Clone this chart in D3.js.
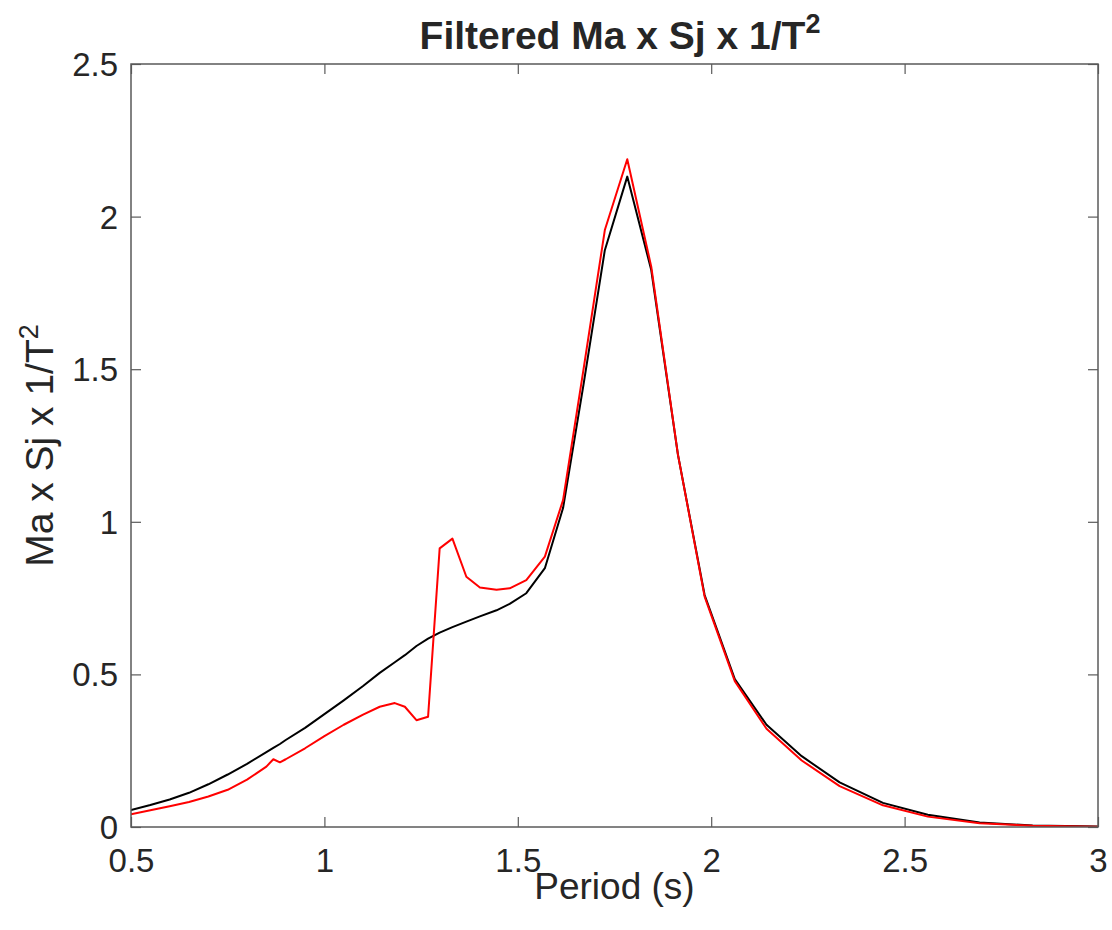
<!DOCTYPE html>
<html>
<head>
<meta charset="utf-8">
<script src="https://cdn.jsdelivr.net/npm/d3@7"></script>
<style>
  html, body { margin: 0; padding: 0; background: #fff; }
  svg { display: block; }
  text { font-family: "Liberation Sans", Arial, Helvetica, sans-serif; fill: #262626; }
</style>
</head>
<body>
<svg id="chart" width="1112" height="930"></svg>
<script>
// ---- data ----
const periods = [0.5, 0.55, 0.6, 0.65, 0.7, 0.75, 0.8, 0.85, 0.868, 0.885, 0.9, 0.95, 1.0, 1.05, 1.1,
  1.143, 1.182, 1.208, 1.238, 1.268, 1.298, 1.331, 1.367, 1.402, 1.445, 1.479, 1.522, 1.570, 1.617,
  1.67, 1.725, 1.783, 1.845, 1.914, 1.983, 2.061, 2.143, 2.234, 2.332, 2.444, 2.560, 2.694, 2.831, 3.0];

const blackValues = [0.056, 0.072, 0.09, 0.112, 0.14, 0.172, 0.207, 0.245, 0.259, 0.272, 0.285, 0.325, 0.37, 0.415, 0.462,
  0.505, 0.54, 0.563, 0.593, 0.617, 0.637, 0.655, 0.673, 0.69, 0.71, 0.731, 0.766, 0.848, 1.045,
  1.45, 1.89, 2.131, 1.825, 1.22, 0.76, 0.485, 0.335, 0.232, 0.146, 0.079, 0.040, 0.015, 0.005, 0.002];

const redValues = [0.042, 0.055, 0.068, 0.082, 0.1, 0.122, 0.155, 0.198, 0.222, 0.212, 0.222, 0.258, 0.298, 0.335, 0.368,
  0.394, 0.406, 0.394, 0.35, 0.361, 0.913, 0.945, 0.82, 0.785, 0.777, 0.782, 0.809, 0.886, 1.071,
  1.5, 1.956, 2.188, 1.836, 1.22, 0.755, 0.478, 0.322, 0.218, 0.134, 0.071, 0.034, 0.012, 0.004, 0.001];

const xTicks = [0.5, 1, 1.5, 2, 2.5, 3];
const xTickLabels = ["0.5", "1", "1.5", "2", "2.5", "3"];
const yTicks = [0, 0.5, 1, 1.5, 2, 2.5];
const yTickLabels = ["0", "0.5", "1", "1.5", "2", "2.5"];

// ---- layout ----
const svg = d3.select("#chart");
const plotLeft = 131, plotRight = 1098, plotTop = 64, plotBottom = 827;

const x = d3.scaleLinear().domain([0.5, 3]).range([plotLeft, plotRight]);
const y = d3.scaleLinear().domain([0, 2.5]).range([plotBottom, plotTop]);

const axisColor = "#5a5a5a";
const tickLen = 10;

// Clip
svg.append("clipPath").attr("id", "clip")
  .append("rect").attr("x", plotLeft).attr("y", plotTop).attr("width", plotRight - plotLeft).attr("height", plotBottom - plotTop);

// Axes (bottom/left with labels, top/right mirrored ticks)
const styleAxis = g => {
  g.select(".domain").remove();
  g.selectAll(".tick line").attr("stroke", axisColor).attr("stroke-width", 1.2);
  g.selectAll(".tick text").attr("fill", "#262626").style("font-size", "33px")
    .style("font-family", '"Liberation Sans", Arial, sans-serif');
};

svg.append("g").attr("transform", `translate(0,${plotBottom})`)
  .call(d3.axisBottom(x).tickValues(xTicks).tickFormat((d, i) => xTickLabels[i]).tickSizeInner(-tickLen).tickSizeOuter(0))
  .call(styleAxis)
  .call(g => g.selectAll(".tick text").attr("y", 45).attr("dy", 0));
svg.append("g").attr("transform", `translate(0,${plotTop})`)
  .call(d3.axisTop(x).tickValues(xTicks).tickFormat("").tickSizeInner(-tickLen).tickSizeOuter(0))
  .call(styleAxis);
svg.append("g").attr("transform", `translate(${plotLeft},0)`)
  .call(d3.axisLeft(y).tickValues(yTicks).tickFormat((d, i) => yTickLabels[i]).tickSizeInner(-tickLen).tickSizeOuter(0))
  .call(styleAxis)
  .call(g => g.selectAll(".tick text").attr("x", -13).attr("dy", "0.35em"));
svg.append("g").attr("transform", `translate(${plotRight},0)`)
  .call(d3.axisRight(y).tickValues(yTicks).tickFormat("").tickSizeInner(-tickLen).tickSizeOuter(0))
  .call(styleAxis);

// Lines
const line = d3.line().x((d, i) => x(periods[i])).y(d => y(d));
const plot = svg.append("g").attr("clip-path", "url(#clip)");
plot.append("path").datum(blackValues).attr("d", line)
  .attr("fill", "none").attr("stroke", "#000000").attr("stroke-width", 2).attr("stroke-linejoin", "round");
plot.append("path").datum(redValues).attr("d", line)
  .attr("fill", "none").attr("stroke", "#ff0000").attr("stroke-width", 2).attr("stroke-linejoin", "round");

// Box
svg.append("rect").attr("x", plotLeft).attr("y", plotTop).attr("width", plotRight - plotLeft).attr("height", plotBottom - plotTop)
  .attr("fill", "none").attr("stroke", axisColor).attr("stroke-width", 1.5);

// Title
const title = svg.append("text").attr("x", 620).attr("y", 49)
  .attr("text-anchor", "middle").style("font-size", "39px").style("font-weight", "bold").attr("fill", "#000");
title.append("tspan").text("Filtered Ma x Sj x 1/T");
title.append("tspan").text("2").attr("dy", -16).style("font-size", "27px");

// X label
svg.append("text").attr("x", (plotLeft + plotRight) / 2).attr("y", 899).attr("text-anchor", "middle")
  .style("font-size", "37px").text("Period (s)");

// Y label
const yl = svg.append("text").attr("transform", `translate(53,${(plotTop + plotBottom) / 2}) rotate(-90)`)
  .attr("text-anchor", "middle").style("font-size", "39px");
yl.append("tspan").text("Ma x Sj x 1/T");
yl.append("tspan").text("2").attr("dy", -15).style("font-size", "27px");
</script>
</body>
</html>
